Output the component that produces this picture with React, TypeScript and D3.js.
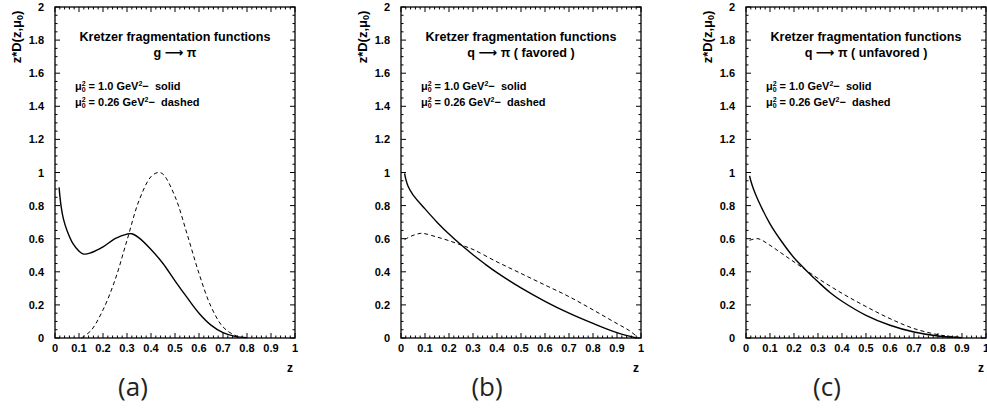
import React from "react";
import * as d3 from "d3";

// ---- data ----
const panelFrom = ["g", "q", "q"];
const panelSuffix = ["", " ( favored )", " ( unfavored )"];
const panelTags = ["(a)", "(b)", "(c)"];
const xTicks = [0, 0.1, 0.2, 0.3, 0.4, 0.5, 0.6, 0.7, 0.8, 0.9, 1];
const yTicks = [0, 0.2, 0.4, 0.6, 0.8, 1, 1.2, 1.4, 1.6, 1.8, 2];

const aSolidZ = [0.017, 0.025, 0.035, 0.05, 0.075, 0.1, 0.12, 0.15, 0.2, 0.25, 0.3, 0.32, 0.35, 0.4, 0.45, 0.5, 0.55, 0.6, 0.65, 0.7, 0.75, 0.8];
const aSolidV = [0.91, 0.8, 0.72, 0.65, 0.57, 0.525, 0.507, 0.515, 0.55, 0.6, 0.628, 0.63, 0.605, 0.535, 0.45, 0.345, 0.245, 0.15, 0.078, 0.032, 0.01, 0.002];
const aDashZ = [0.11, 0.15, 0.2, 0.25, 0.3, 0.35, 0.4, 0.43, 0.45, 0.5, 0.55, 0.6, 0.65, 0.7, 0.75, 0.8];
const aDashV = [0, 0.045, 0.17, 0.35, 0.59, 0.83, 0.975, 1.0, 0.99, 0.855, 0.63, 0.39, 0.19, 0.067, 0.016, 0];

const bSolidZ = [0.015, 0.02, 0.03, 0.05, 0.1, 0.15, 0.2, 0.25, 0.3, 0.35, 0.4, 0.5, 0.6, 0.7, 0.8, 0.9, 0.98];
const bSolidV = [0.995, 0.96, 0.915, 0.865, 0.78, 0.7, 0.628, 0.563, 0.503, 0.447, 0.395, 0.303, 0.222, 0.15, 0.088, 0.032, 0.0];
const bDashZ = [0.015, 0.05, 0.08, 0.1, 0.15, 0.2, 0.25, 0.3, 0.4, 0.5, 0.6, 0.7, 0.8, 0.9, 0.95, 0.99];
const bDashV = [0.595, 0.62, 0.632, 0.63, 0.61, 0.588, 0.562, 0.535, 0.46, 0.39, 0.32, 0.25, 0.17, 0.087, 0.046, 0];

const cSolidZ = [0.015, 0.02, 0.03, 0.05, 0.1, 0.15, 0.2, 0.25, 0.3, 0.35, 0.4, 0.5, 0.6, 0.7, 0.8, 0.9];
const cSolidV = [0.98, 0.95, 0.905, 0.834, 0.69, 0.58, 0.485, 0.41, 0.34, 0.275, 0.222, 0.137, 0.077, 0.036, 0.012, 0.002];
const cDashZ = [0.015, 0.05, 0.1, 0.15, 0.2, 0.25, 0.3, 0.4, 0.5, 0.6, 0.7, 0.8, 0.85, 0.9];
const cDashV = [0.59, 0.6, 0.56, 0.51, 0.46, 0.41, 0.36, 0.27, 0.19, 0.117, 0.057, 0.02, 0.01, 0.002];

const series = [
  { sz: aSolidZ, sv: aSolidV, dz: aDashZ, dv: aDashV },
  { sz: bSolidZ, sv: bSolidV, dz: bDashZ, dv: bDashV },
  { sz: cSolidZ, sv: cSolidV, dz: cDashZ, dv: cDashV },
];

const W = 987;
const H = 411;
const panelLeft = [55, 401, 746];
const pw = 240;
const top = 7;
const bottom = 338;
const font = "'Liberation Sans', Arial, sans-serif";

function Panel({ idx }: { idx: number }) {
  const x0 = panelLeft[idx];
  const x = d3.scaleLinear().domain([0, 1]).range([x0, x0 + pw]);
  const y = d3.scaleLinear().domain([0, 2]).range([bottom, top]);
  const s = series[idx];
  const line = d3
    .line<[number, number]>()
    .x((d) => x(d[0]))
    .y((d) => y(d[1]))
    .curve(d3.curveCatmullRom.alpha(0.5));
  const solid = line(s.sz.map((z, i) => [z, s.sv[i]] as [number, number])) || "";
  const dashed = line(s.dz.map((z, i) => [z, s.dv[i]] as [number, number])) || "";

  const xMinor = d3.range(0, 1.0001, 0.02);
  const yMinor = d3.range(0, 2.0001, 0.05);
  const cx = x0 + pw / 2;
  const fmt = (v: number) => (v === 0 ? "0" : d3.format("~g")(v));
  const ticks: JSX.Element[] = [];
  xMinor.forEach((v, i) => {
    const major = Math.abs(v * 10 - Math.round(v * 10)) < 1e-6;
    const len = major ? 5 : 2.5;
    ticks.push(<line key={"xb" + i} x1={x(v)} x2={x(v)} y1={bottom} y2={bottom - len} stroke="#000" strokeWidth={1} />);
    ticks.push(<line key={"xt" + i} x1={x(v)} x2={x(v)} y1={top} y2={top + len} stroke="#000" strokeWidth={1} />);
  });
  yMinor.forEach((v, i) => {
    const major = Math.abs(v * 5 - Math.round(v * 5)) < 1e-6;
    const len = major ? 5 : 2.5;
    ticks.push(<line key={"yl" + i} x1={x0} x2={x0 + len} y1={y(v)} y2={y(v)} stroke="#000" strokeWidth={1} />);
    ticks.push(<line key={"yr" + i} x1={x0 + pw} x2={x0 + pw - len} y1={y(v)} y2={y(v)} stroke="#000" strokeWidth={1} />);
  });

  const legend = (yy: number, val: string, style: string) => (
    <text x={x0 + 20} y={yy} fontFamily={font} fontWeight="bold" fontSize={11}>
      μ<tspan fontSize={7} dy={2}>0</tspan>
      <tspan fontSize={7} dy={-6} dx={-4}>2</tspan>
      <tspan dy={4}>{" = " + val + " GeV"}</tspan>
      <tspan fontSize={7} dy={-4}>2</tspan>
      <tspan dy={4}>{"\u2212\u00a0\u00a0" + style}</tspan>
    </text>
  );

  return (
    <g>
      <rect x={x0} y={top} width={pw} height={bottom - top} fill="none" stroke="#000" strokeWidth={1.3} />
      {ticks}
      {xTicks.map((v) => (
        <text key={"xl" + v} x={x(v)} y={352} textAnchor="middle" fontFamily={font} fontWeight="bold" fontSize={11}>
          {fmt(v)}
        </text>
      ))}
      {yTicks.map((v) => (
        <text key={"yl" + v} x={x0 - 11} y={y(v) + 4} textAnchor="end" fontFamily={font} fontWeight="bold" fontSize={11}>
          {fmt(v)}
        </text>
      ))}
      <text x={x0 + pw - 5} y={372} textAnchor="middle" fontFamily={font} fontWeight="bold" fontSize={12}>
        z
      </text>
      <text
        transform={`translate(${x0 - 34},${37}) rotate(-90)`}
        textAnchor="middle"
        fontFamily={font}
        fontWeight="bold"
        fontSize={13}
      >
        z*D(z,μ<tspan fontSize={9} dy={2}>0</tspan><tspan dy={-2}>)</tspan>
      </text>
      <text x={cx} y={41} textAnchor="middle" fontFamily={font} fontWeight="bold" fontSize={12.6}>
        Kretzer fragmentation functions
      </text>
      <text x={cx} y={57} textAnchor="middle" fontFamily={font} fontWeight="bold" fontSize={12.6}>
        {panelFrom[idx] + " "}
        <tspan fontFamily="'DejaVu Sans', sans-serif" fontSize={13}>{"\u27f6"}</tspan>
        {" \u03c0" + panelSuffix[idx]}
      </text>
      {legend(90, "1.0", "solid")}
      {legend(106, "0.26", "dashed")}
      <path d={solid} fill="none" stroke="#000" strokeWidth={1.4} />
      <path d={dashed} fill="none" stroke="#000" strokeWidth={1} strokeDasharray="4,3" />
      <text x={[133, 487, 827][idx]} y={396} textAnchor="middle" fontFamily="'Open Sans', 'DejaVu Sans', sans-serif" fontSize={26} fill="#222">
        {panelTags[idx]}
      </text>
    </g>
  );
}

export default function App() {
  return (
    <svg width={W} height={H} style={{ position: "absolute", left: 0, top: 0, background: "#fff" }}>
      <rect width={W} height={H} fill="#fff" />
      {[0, 1, 2].map((i) => (
        <Panel key={i} idx={i} />
      ))}
    </svg>
  );
}
